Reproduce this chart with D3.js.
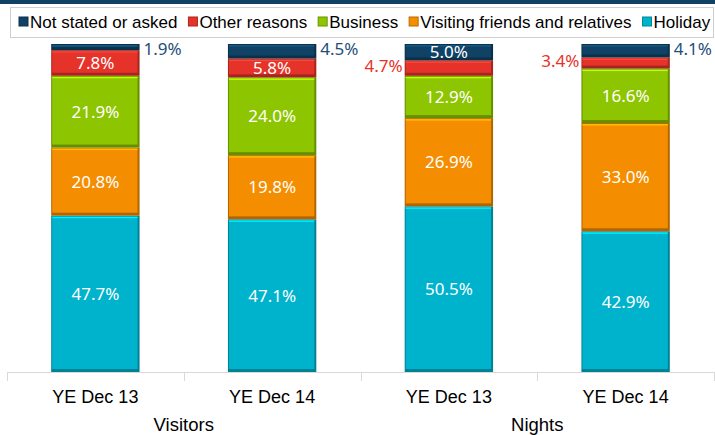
<!DOCTYPE html>
<html>
<head>
<meta charset="utf-8">
<script src="https://cdn.jsdelivr.net/npm/d3@7"></script>
<style>
  body { margin: 0; background: #fff; }
  text { font-family: "Liberation Sans", Arial, sans-serif; }
</style>
</head>
<body>
<script>
// categories (bottom level) and groups (top level)
const categories = ["YE Dec 13", "YE Dec 14", "YE Dec 13", "YE Dec 14"];
const groups = ["Visitors", "Nights"];
// series, stacked from bottom to top
const seriesNames = ["Holiday", "Visiting friends and relatives", "Business", "Other reasons", "Not stated or asked"];
const holiday = [47.7, 47.1, 50.5, 42.9];
const vfr = [20.8, 19.8, 26.9, 33.0];
const business = [21.9, 24.0, 12.9, 16.6];
const otherReasons = [7.8, 5.8, 4.7, 3.4];
const notStated = [1.9, 4.5, 5.0, 4.1];
const colors = ["#00b3cd", "#f58d00", "#8dc500", "#e5332a", "#0f4265"];
const legendOrder = ["Not stated or asked", "Other reasons", "Business", "Visiting friends and relatives", "Holiday"];

const W = 715, H = 435;
const margin = {top: 44, right: 1, bottom: 63, left: 7};
const width = W - margin.left - margin.right,
      height = H - margin.top - margin.bottom;

const rows = categories.map(function(c, i) {
  return {key: i, "Holiday": holiday[i], "Visiting friends and relatives": vfr[i],
          "Business": business[i], "Other reasons": otherReasons[i], "Not stated or asked": notStated[i]};
});

const stack = d3.stack().keys(seriesNames).offset(d3.stackOffsetExpand);
const layers = stack(rows);

const x = d3.scaleBand().domain(d3.range(categories.length)).range([0, width]).paddingInner(0.5).paddingOuter(0.25);
const y = d3.scaleLinear().domain([0, 1]).range([height, 0]);

const svg = d3.select("body").append("svg")
  .attr("width", W).attr("height", H);

// top banner strip
svg.append("rect").attr("x", 0).attr("y", 0).attr("width", W).attr("height", 4).attr("fill", "#0f4265");

// legend
const legend = svg.append("g");
legend.append("rect").attr("x", 10.5).attr("y", 7.5).attr("width", 703).attr("height", 30)
  .attr("fill", "#fff").attr("stroke", "#d0d0d0");
let lx = 19;
legendOrder.forEach(function(name) {
  const c = colors[seriesNames.indexOf(name)];
  const g = legend.append("g").attr("transform", "translate(" + lx + ",22)");
  g.append("rect").attr("x", 0).attr("y", -5).attr("width", 9).attr("height", 9)
    .attr("fill", c).attr("stroke", d3.color(c).darker(0.8));
  const t = g.append("text").attr("x", 11).attr("y", 0).attr("dy", "0.35em")
    .style("font-size", "17px").attr("fill", "#000").text(name);
  lx += 11 + t.node().getComputedTextLength() + 11;
});

const plot = svg.append("g").attr("transform", "translate(" + margin.left + "," + margin.top + ")");

// axis
plot.append("line").attr("x1", 0).attr("x2", width).attr("y1", height + 0.5).attr("y2", height + 0.5)
  .attr("stroke", "#d9d9d9");
const step = x.step();
d3.range(categories.length + 1).forEach(function(i) {
  const tx = Math.round(i * step) + 0.5;
  plot.append("line").attr("x1", tx).attr("x2", tx).attr("y1", height).attr("y2", height + 9)
    .attr("stroke", "#d9d9d9");
});
plot.selectAll(".cat").data(categories).enter().append("text")
  .attr("x", function(d, i) { return x(i) + x.bandwidth() / 2; })
  .attr("y", height + 31)
  .attr("text-anchor", "middle")
  .style("font-size", "18px").attr("fill", "#000")
  .text(function(d) { return d; });
plot.selectAll(".grp").data(groups).enter().append("text")
  .attr("x", function(d, i) { return (i * 2 + 1) * step; })
  .attr("y", height + 59)
  .attr("text-anchor", "middle")
  .style("font-size", "18.5px").attr("fill", "#000")
  .text(function(d) { return d; });

// bars with bevel
layers.forEach(function(layer, li) {
  const c = colors[li];
  const g = plot.append("g");
  layer.forEach(function(d, i) {
    const x0 = x(i), bw = x.bandwidth();
    const y0 = y(d[1]), h = y(d[0]) - y(d[1]);
    g.append("rect").attr("x", x0).attr("y", y0).attr("width", bw).attr("height", h)
      .attr("fill", d3.color(c).darker(0.9));
    g.append("rect").attr("x", x0 + 1).attr("y", y0 + 1).attr("width", bw - 3).attr("height", Math.max(0, h - 4))
      .attr("fill", c);
    g.append("rect").attr("x", x0 + 1).attr("y", y0 + 1).attr("width", bw - 3).attr("height", 1.5)
      .attr("fill", d3.color(c).brighter(0.8));
  });
});

// data labels
const outsideDark = "#1f4e79", outsideRed = "#e5332a";
layers.forEach(function(layer, li) {
  layer.forEach(function(d, i) {
    const v = rows[i][seriesNames[li]];
    const cy = (y(d[0]) + y(d[1])) / 2;
    const h = y(d[0]) - y(d[1]);
    const cx = x(i) + x.bandwidth() / 2;
    const t = plot.append("text").attr("dy", "0.36em").style("font-size", "17px")
      .style("font-family", "'Noto Sans', sans-serif")
      .text(v.toFixed(1) + "%");
    if (h >= 16) {
      t.attr("x", cx).attr("y", cy).attr("text-anchor", "middle").attr("fill", "#fff");
    } else if (li === 4) {
      t.attr("x", x(i) + x.bandwidth() + 4).attr("y", y(d[1]) + 5).attr("fill", outsideDark);
    } else {
      t.attr("x", x(i) - 2).attr("y", cy - 2).attr("text-anchor", "end").attr("fill", outsideRed);
    }
  });
});
</script>
</body>
</html>
